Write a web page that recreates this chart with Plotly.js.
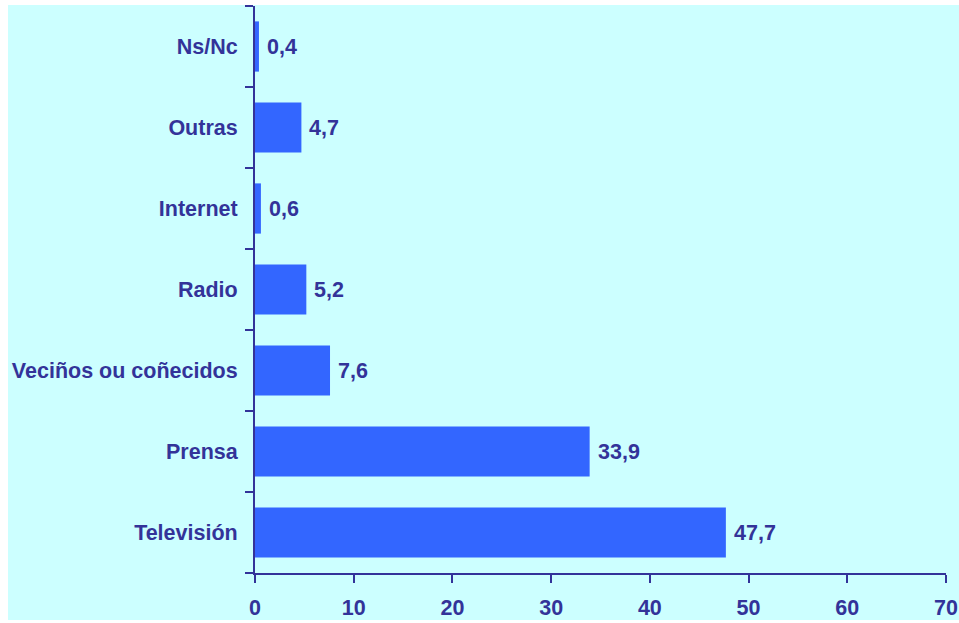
<!DOCTYPE html>
<html>
<head>
<meta charset="utf-8">
<script src="https://cdn.plot.ly/plotly-3.0.1.min.js"></script>
<style>
html,body{margin:0;padding:0;background:#ffffff;width:959px;height:623px;overflow:hidden;}
#chart{position:absolute;left:8px;top:5px;width:951px;height:615px;}
</style>
</head>
<body>
<div id="chart"></div>
<script>
const categories = ["Televisión", "Prensa", "Veciños ou coñecidos", "Radio", "Internet", "Outras", "Ns/Nc"];
const values = [47.7, 33.9, 7.6, 5.2, 0.6, 4.7, 0.4];
const xTickValues = [0, 10, 20, 30, 40, 50, 60, 70];

const navy = "#333399";
const fontFam = "Liberation Sans, Arial, sans-serif";
const fs = 21.5;

const trace = {
  type: "bar",
  orientation: "h",
  x: values,
  y: categories,
  width: 0.62,
  marker: {color: "#3366FF"},
  hoverinfo: "none"
};

const annotations = values.map((v, i) => ({
  x: v, y: categories[i], xref: "x", yref: "y",
  text: v.toFixed(1).replace(".", ","),
  showarrow: false, xanchor: "left", yanchor: "middle", xshift: 6,
  font: {family: fontFam, size: fs, color: navy, weight: "bold"}
}));

const layout = {
  width: 951, height: 615,
  margin: {l: 247, r: 13, t: 1, b: 47, pad: 0},
  paper_bgcolor: "#CCFFFF",
  plot_bgcolor: "#CCFFFF",
  showlegend: false,
  separators: ",.",
  xaxis: {
    range: [0, 70],
    tickvals: xTickValues,
    ticktext: xTickValues.map(String),
    showgrid: false, zeroline: false,
    showline: true, linecolor: navy, linewidth: 2,
    ticks: "outside", ticklen: 8, tickwidth: 2, tickcolor: navy,
    ticklabelstandoff: 6,
    tickfont: {family: fontFam, size: fs, color: navy, weight: "bold"},
    fixedrange: true
  },
  yaxis: {
    type: "category",
    categoryorder: "array",
    categoryarray: categories,
    range: [-0.5, 6.5],
    showgrid: false, zeroline: false,
    showline: true, linecolor: navy, linewidth: 2,
    ticks: "outside", ticklen: 8, tickwidth: 2, tickcolor: navy,
    tickson: "boundaries",
    ticklabelstandoff: 11,
    tickfont: {family: fontFam, size: fs, color: navy, weight: "bold"},
    fixedrange: true
  },
  annotations: annotations
};

Plotly.newPlot("chart", [trace], layout, {displayModeBar: false, staticPlot: true});
</script>
</body>
</html>
